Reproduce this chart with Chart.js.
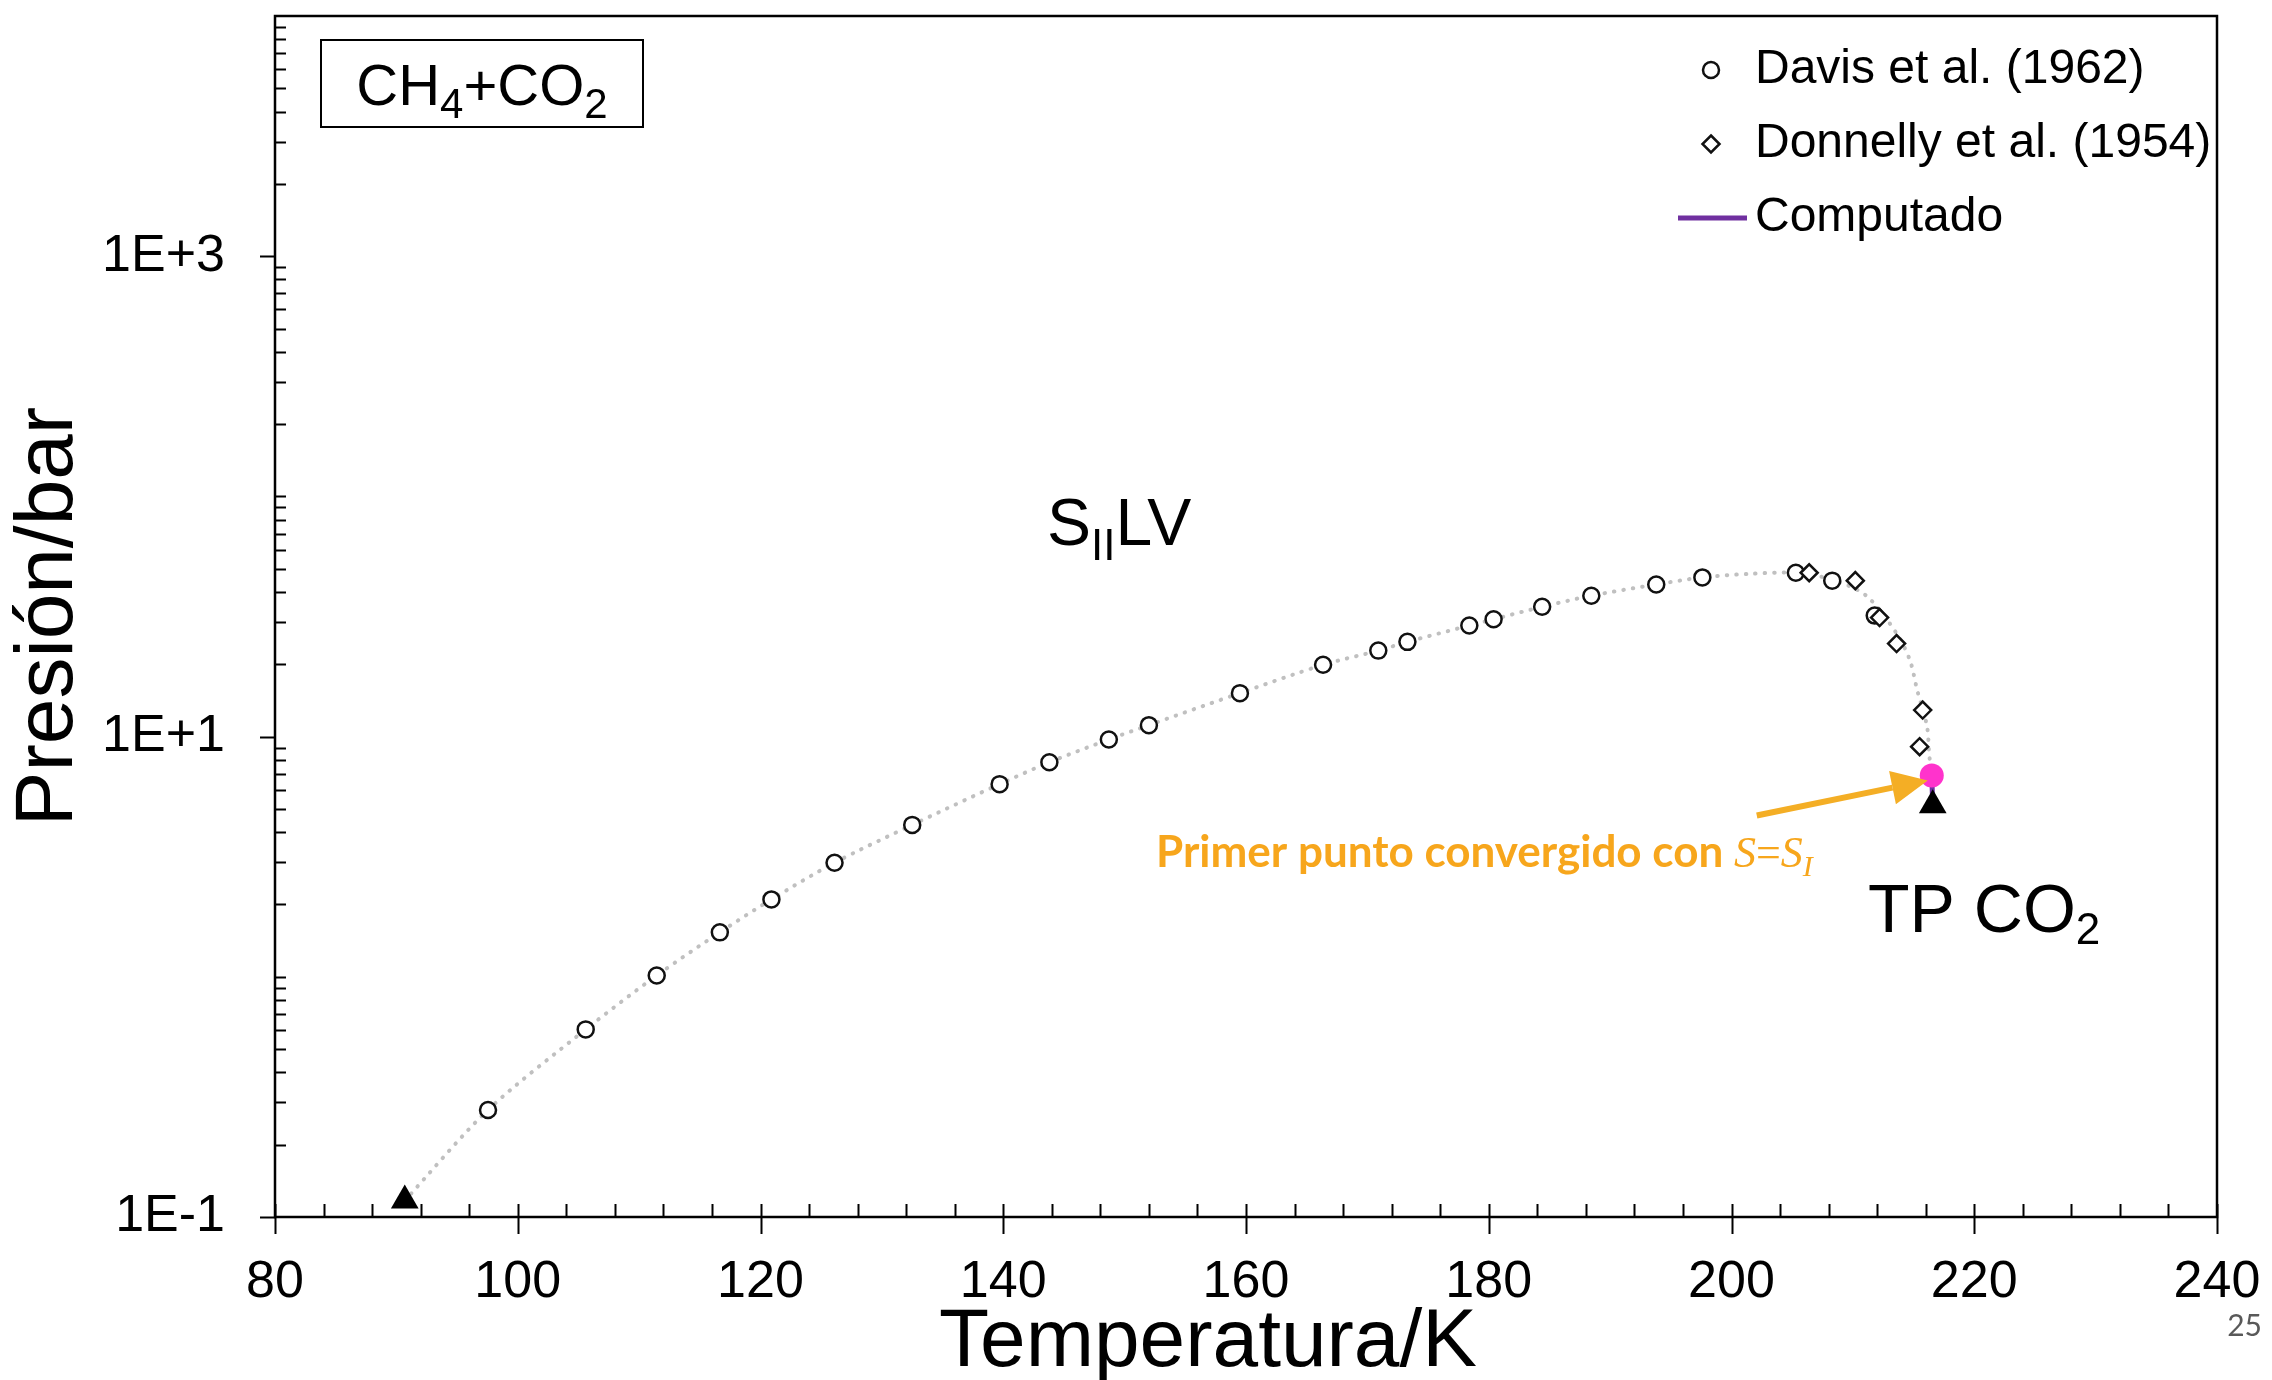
<!DOCTYPE html>
<html>
<head>
<meta charset="utf-8">
<title>CH4+CO2 - SIILV</title>
<script src="https://cdn.jsdelivr.net/npm/chart.js@4.4.1/dist/chart.umd.min.js"></script>
<style>
  html, body { margin: 0; padding: 0; background: #fff; }
  canvas { display: block; }
</style>
</head>
<body>
<canvas id="myChart" width="2272" height="1380"></canvas>
<script>
// Davis et al. (1962) - circles
const davisT = [97.55, 105.6, 111.45, 116.65, 120.9, 126.1, 132.5, 139.7, 143.8, 148.7, 152.0, 159.5,
                166.35, 170.9, 173.3, 178.4, 180.4, 184.4, 188.45, 193.8, 197.6, 205.3, 208.3, 211.8];
const davisP = [0.279, 0.604, 1.013, 1.531, 2.10, 2.985, 4.29, 6.34, 7.82, 9.73, 11.16, 15.17,
                19.9, 22.8, 24.8, 29.0, 30.8, 34.7, 38.6, 43.0, 46.0, 48.1, 44.6, 31.9];

// Donnelly et al. (1954) - diamonds
const donnellyT = [206.4, 210.2, 212.2, 213.6, 215.75, 215.5];
const donnellyP = [48.1, 44.6, 31.3, 24.4, 12.9, 9.08];

// computed SIILV curve (grey dotted)
const curveT = [90.69, 97.55, 105.6, 111.45, 116.65, 120.9, 126.1, 132.5, 139.7, 143.8, 148.7, 152.0,
                159.5, 166.35, 170.9, 173.3, 178.4, 180.4, 184.4, 188.45, 193.8, 197.6, 201.5, 205.3,
                208.3, 211.1, 213.6, 214.7, 215.3, 216.1, 216.3, 216.5];
const curveP = [0.117, 0.279, 0.604, 1.013, 1.531, 2.10, 2.985, 4.29, 6.34, 7.82, 9.73, 11.16,
                15.17, 19.9, 22.8, 24.8, 29.0, 30.8, 34.7, 38.6, 43.0, 46.0, 47.6, 48.0,
                45.0, 38.6, 26.9, 20.8, 15.6, 11.1, 8.33, 6.89];

// branch computed with S = S_I (first converged point -> CO2 triple point)
const computedT = [216.5, 216.58];
const computedP = [6.89, 5.18];

// first converged point with S = S_I
const firstT = [216.5];
const firstP = [6.89];

// triple points of CH4 and CO2
const tripleT = [90.69, 216.58];
const tripleP = [0.117, 5.18];

// axes
const xMin = 80, xMax = 240, xMajorStep = 20, xMinorStep = 4;
const yMin = 0.1, yMax = 10000;
const yTickValues = [0.1, 10, 1000];
const yTickLabels = ['1E-1', '1E+1', '1E+3'];
const xTitle = 'Temperatura/K';

const SANS = '"Liberation Sans", Arial, sans-serif';
const SERIF = '"Liberation Serif", "Times New Roman", serif';

function toXY(ts, ps) {
    return ts.map((t, i) => ({ x: t, y: ps[i] }));
}

// draws a run of text pieces (font, vertical shift) one after another
function drawParts(ctx, x, y, parts, align) {
    let w = 0;
    parts.forEach(p => { ctx.font = p[1]; w += ctx.measureText(p[0]).width; });
    let cx = align === 'center' ? x - w / 2 : x;
    parts.forEach(p => {
        ctx.font = p[1];
        ctx.fillText(p[0], cx, y + (p[2] || 0));
        cx += ctx.measureText(p[0]).width;
    });
}

// keep the plot box fixed: no extra room for edge labels
function noPadding(scale) {
    scale.paddingTop = 0;
    scale.paddingBottom = 0;
    scale.paddingLeft = 0;
    scale.paddingRight = 0;
}

// frame + Excel style tick marks
const frameTicks = {
    id: 'frameTicks',
    beforeDatasetsDraw(chart) {
        const { ctx, chartArea: a, scales: { x, y } } = chart;
        ctx.save();
        ctx.strokeStyle = '#000';
        ctx.lineWidth = 2;
        ctx.beginPath();
        for (let t = xMin; t <= xMax; t += xMinorStep) {
            const px = Math.round(x.getPixelForValue(t)) + 0.5;
            const major = t % xMajorStep === 0;
            ctx.moveTo(px, a.bottom - 13);
            ctx.lineTo(px, a.bottom + (major ? 17 : 0));
        }
        for (let e = -1; e <= 3; e++) {
            for (let m = 1; m <= 9; m++) {
                const v = m * Math.pow(10, e);
                const py = Math.round(y.getPixelForValue(v)) + 0.5;
                if (m === 1 && yTickValues.includes(v)) {
                    ctx.moveTo(a.left - 15, py);
                    ctx.lineTo(a.left, py);
                } else {
                    ctx.moveTo(a.left, py);
                    ctx.lineTo(a.left + 11, py);
                }
            }
        }
        ctx.stroke();
        ctx.lineWidth = 2.5;
        ctx.strokeRect(a.left, a.top, a.right - a.left, a.bottom - a.top);

        // x axis title, sits a bit left of centre
        ctx.fillStyle = '#000';
        ctx.font = '82px ' + SANS;
        ctx.textAlign = 'center';
        ctx.textBaseline = 'alphabetic';
        ctx.fillText(xTitle, (a.left + a.right) / 2 - 38, 1366);
        ctx.restore();
    }
};

// labels, arrow and legend
const annotations = {
    id: 'annotations',
    afterDatasetsDraw(chart) {
        const { ctx, scales: { x, y } } = chart;
        ctx.save();
        ctx.textAlign = 'left';
        ctx.textBaseline = 'alphabetic';
        ctx.fillStyle = '#000';

        // mixture box
        ctx.strokeStyle = '#000';
        ctx.lineWidth = 2;
        ctx.strokeRect(321, 40, 322, 87);
        drawParts(ctx, 482, 105, [
            ['CH', '58px ' + SANS], ['4', '42px ' + SANS, 13],
            ['+CO', '58px ' + SANS], ['2', '42px ' + SANS, 13]
        ], 'center');

        // region label
        drawParts(ctx, 1047, 545, [['S', '66px ' + SANS], ['II', '44px ' + SANS, 15], ['LV', '66px ' + SANS]]);

        // CO2 triple point label
        drawParts(ctx, 1868, 932, [['TP CO', '68px ' + SANS], ['2', '44px ' + SANS, 12]]);

        // arrow to the first converged point
        const px = x.getPixelForValue(firstT[0]);
        const py = y.getPixelForValue(firstP[0]);
        const tip = { x: px - 4, y: py + 5 };
        const tail = { x: px - 175, y: py + 40 };
        const dx = tip.x - tail.x, dy = tip.y - tail.y;
        const len = Math.hypot(dx, dy);
        const ux = dx / len, uy = dy / len;
        const head = 36, half = 17;
        const bx = tip.x - ux * head, by = tip.y - uy * head;
        ctx.strokeStyle = '#f4ae25';
        ctx.fillStyle = '#f4ae25';
        ctx.lineWidth = 6;
        ctx.beginPath();
        ctx.moveTo(tail.x, tail.y);
        ctx.lineTo(bx, by);
        ctx.stroke();
        ctx.beginPath();
        ctx.moveTo(tip.x, tip.y);
        ctx.lineTo(bx - uy * half, by + ux * half);
        ctx.lineTo(bx + uy * half, by - ux * half);
        ctx.closePath();
        ctx.fill();

        ctx.fillStyle = '#f7a61c';
        drawParts(ctx, 1156, 867, [
            ['Primer punto convergido con ', 'bold 44px Lato, ' + SANS],
            ['S', 'italic 44px ' + SERIF], ['=', '44px ' + SERIF],
            ['S', 'italic 44px ' + SERIF], ['I', 'italic 30px ' + SERIF, 9]
        ]);

        // slide number
        ctx.fillStyle = '#595959';
        ctx.textAlign = 'right';
        ctx.font = '30px Lato, ' + SANS;
        ctx.fillText('25', 2262, 1336);
        ctx.restore();
    },
    afterDraw(chart) {
        const ctx = chart.ctx;
        const mx = 1711, tx = 1755;
        const rows = [70, 144, 218];
        ctx.save();
        ctx.strokeStyle = '#111';
        ctx.fillStyle = '#fff';
        ctx.lineWidth = 2.5;
        ctx.beginPath();
        ctx.arc(mx, rows[0], 8, 0, Math.PI * 2);
        ctx.fill();
        ctx.stroke();
        ctx.beginPath();
        ctx.moveTo(mx, rows[1] - 8.5);
        ctx.lineTo(mx + 8.5, rows[1]);
        ctx.lineTo(mx, rows[1] + 8.5);
        ctx.lineTo(mx - 8.5, rows[1]);
        ctx.closePath();
        ctx.fill();
        ctx.stroke();
        ctx.strokeStyle = '#7030a0';
        ctx.lineWidth = 5;
        ctx.beginPath();
        ctx.moveTo(1678, rows[2]);
        ctx.lineTo(1747, rows[2]);
        ctx.stroke();
        ctx.fillStyle = '#000';
        ctx.font = '48px ' + SANS;
        ctx.textBaseline = 'middle';
        ctx.fillText('Davis et al. (1962)', tx, rows[0]);
        ctx.fillText('Donnelly et al. (1954)', tx, rows[1]);
        ctx.fillText('Computado', tx, rows[2]);
        ctx.restore();
    }
};

const ctx = document.getElementById('myChart');

new Chart(ctx, {
    type: 'scatter',
    data: {
        datasets: [
            {
                label: 'Punto triple',
                data: toXY(tripleT, tripleP),
                pointStyle: 'triangle',
                pointRadius: 16,
                backgroundColor: '#000',
                borderColor: '#000',
                borderWidth: 0,
                clip: false
            },
            {
                label: 'Primer punto S=SI',
                data: toXY(firstT, firstP),
                pointStyle: 'circle',
                pointRadius: 12,
                backgroundColor: '#ff33cc',
                borderWidth: 0,
                clip: false
            },
            {
                label: 'Donnelly et al. (1954)',
                data: toXY(donnellyT, donnellyP),
                pointStyle: 'rectRot',
                pointRadius: 8.5,
                backgroundColor: '#fff',
                borderColor: '#111',
                borderWidth: 2.5
            },
            {
                label: 'Davis et al. (1962)',
                data: toXY(davisT, davisP),
                pointStyle: 'circle',
                pointRadius: 8,
                backgroundColor: '#fff',
                borderColor: '#111',
                borderWidth: 2.5
            },
            {
                label: 'Computado',
                data: toXY(computedT, computedP),
                showLine: true,
                pointRadius: 0,
                borderColor: '#7030a0',
                borderWidth: 5
            },
            {
                label: 'Curva',
                data: toXY(curveT, curveP),
                showLine: true,
                pointRadius: 0,
                borderColor: '#c0c0c0',
                borderWidth: 4,
                borderDash: [0.5, 9],
                borderCapStyle: 'round',
                tension: 0.3
            }
        ]
    },
    options: {
        responsive: false,
        devicePixelRatio: 1,
        animation: false,
        events: [],
        layout: { padding: { top: 12, right: 55, left: 0, bottom: 0 } },
        plugins: {
            legend: { display: false },
            tooltip: { enabled: false }
        },
        scales: {
            x: {
                type: 'linear',
                position: 'bottom',
                min: xMin,
                max: xMax,
                afterFit(scale) { scale.height = 163; noPadding(scale); },
                grid: { display: false, drawTicks: false },
                border: { display: false },
                ticks: {
                    stepSize: xMajorStep,
                    autoSkip: false,
                    maxRotation: 0,
                    padding: 34,
                    color: '#000',
                    font: { family: SANS, size: 52 }
                },
                title: { display: false }
            },
            y: {
                type: 'logarithmic',
                min: yMin,
                max: yMax,
                afterFit(scale) { scale.width = 275; noPadding(scale); },
                afterBuildTicks(scale) {
                    scale.ticks = yTickValues.map(v => ({ value: v }));
                },
                grid: { display: false, drawTicks: false },
                border: { display: false },
                ticks: {
                    padding: 50,
                    color: '#000',
                    font: { family: SANS, size: 52 },
                    callback: (value, index) => yTickLabels[index]
                },
                title: {
                    display: true,
                    text: 'Presión/bar',
                    color: '#000',
                    font: { family: SANS, size: 82 },
                    padding: { top: 0, bottom: 0 }
                }
            }
        }
    },
    plugins: [frameTicks, annotations]
});
</script>
</body>
</html>
